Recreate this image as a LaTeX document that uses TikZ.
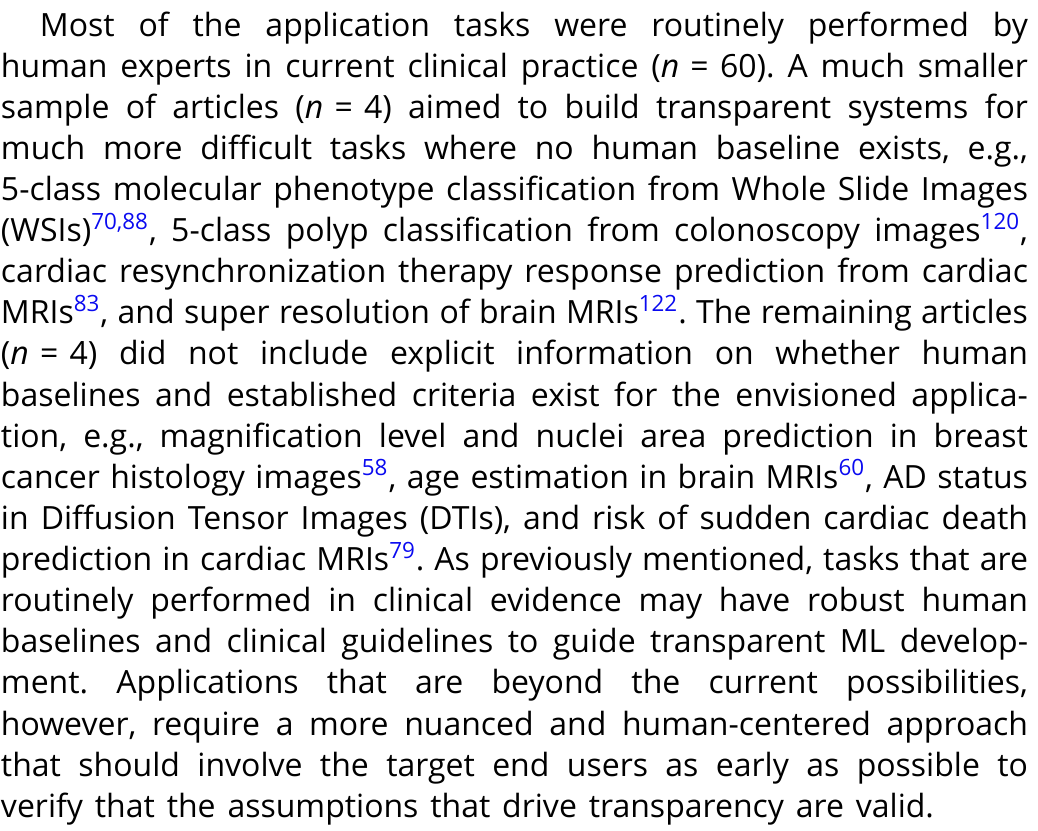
\documentclass[tikz,border=0pt]{standalone}
\usepackage{fontspec}
\setmainfont{Open Sans}
\usetikzlibrary{positioning}
\definecolor{citeblue}{RGB}{10,10,240}
\newlength\linew
\setlength\linew{513.5pt}
\newcommand\linestep{20.56pt}
\newcommand\linefont{\fontsize{16}{20.5}\selectfont
  \spaceskip=0.37em plus 0.4em minus 0.21em\relax}
\newcommand\jline[1]{\hbox to\linew{#1}}% one justified line
\newcommand\refsup[1]{\textsuperscript{\color{citeblue}#1}}
\newcommand\nval[1]{(\textit{n}\kern0.35em=\kern0.35em#1)}
\frenchspacing
\tikzset{
  textline/.style = {inner sep=0pt, outer sep=0pt, anchor=base west,
    font=\linefont},% one line of the paragraph
  nextline/.style = {textline, below=\linestep of #1.base west,
    anchor=base west}% next line, under line #1
}
\begin{document}
\begin{tikzpicture}
\useasboundingbox (0,0) rectangle (519pt,-415pt);
\node [textline] (l1) at (0.5pt,-18pt)
  {\jline{\hspace*{19.5pt}Most of the application tasks were routinely performed by}};
\node [nextline=l1] (l2) {\jline{human experts in current clinical practice \nval{60}. A much smaller}};
\node [nextline=l2] (l3) {\jline{sample of articles \nval{4} aimed to build transparent systems for}};
\node [nextline=l3] (l4) {\jline{much more difficult tasks where no human baseline exists, e.g.,}};
\node [nextline=l4] (l5) {\jline{5-class molecular phenotype classification from Whole Slide Images}};
\node [nextline=l5] (l6) {\jline{(WSIs)\refsup{70,88}, 5-class polyp classification from colonoscopy images\refsup{120},}};
\node [nextline=l6] (l7) {\jline{cardiac resynchronization therapy response prediction from cardiac}};
\node [nextline=l7] (l8) {\jline{MRIs\refsup{83}, and super resolution of brain MRIs\refsup{122}. The remaining articles}};
\node [nextline=l8] (l9) {\jline{\nval{4} did not include explicit information on whether human}};
\node [nextline=l9] (l10) {\jline{baselines and established criteria exist for the envisioned applica-}};
\node [nextline=l10] (l11) {\jline{tion, e.g., magnification level and nuclei area prediction in breast}};
\node [nextline=l11] (l12) {\jline{cancer histology images\refsup{58}, age estimation in brain MRIs\refsup{60}, AD status}};
\node [nextline=l12] (l13) {\jline{in Diffusion Tensor Images (DTIs), and risk of sudden cardiac death}};
\node [nextline=l13] (l14) {\jline{prediction in cardiac MRIs\refsup{79}. As previously mentioned, tasks that are}};
\node [nextline=l14] (l15) {\jline{routinely performed in clinical evidence may have robust human}};
\node [nextline=l15] (l16) {\jline{baselines and clinical guidelines to guide transparent ML develop-}};
\node [nextline=l16] (l17) {\jline{ment. Applications that are beyond the current possibilities,}};
\node [nextline=l17] (l18) {\jline{however, require a more nuanced and human-centered approach}};
\node [nextline=l18] (l19) {\jline{that should involve the target end users as early as possible to}};
\node [nextline=l19] (l20) {\jline{verify that the assumptions that drive transparency are valid.\hfil}};
\end{tikzpicture}
\end{document}
